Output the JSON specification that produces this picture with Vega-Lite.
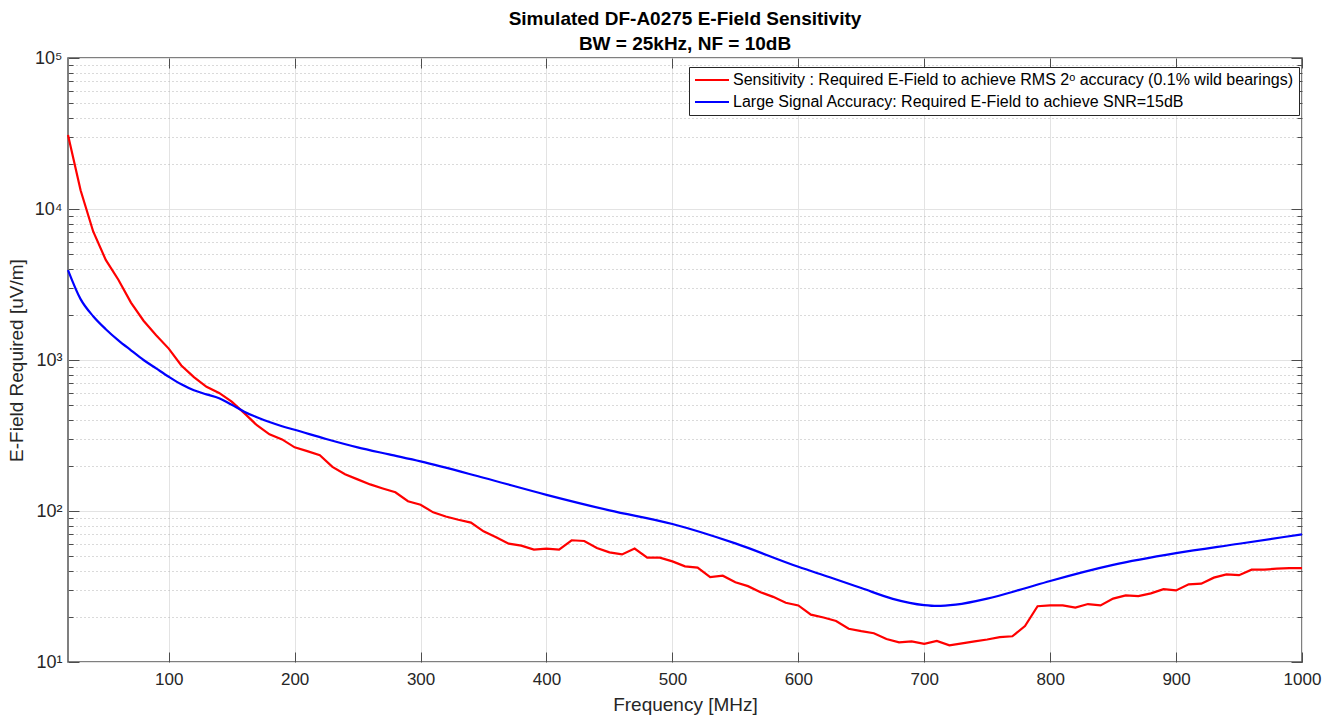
{
  "$schema": "https://vega.github.io/schema/vega-lite/v6.json",
  "width": 1234,
  "height": 604,
  "autosize": {"type": "none"},
  "padding": {"left": 68, "top": 58, "right": 35, "bottom": 58},
  "background": "white",
  "config": {
    "view": {"stroke": "#555555", "strokeWidth": 1.5},
    "axis": {"labelFont": "Liberation Sans", "titleFont": "Liberation Sans", "labelColor": "#262626", "titleColor": "#262626", "tickColor": "#4d4d4d", "domain": false}
  },
  "title": {
    "text": ["Simulated DF-A0275 E-Field Sensitivity", "BW = 25kHz, NF = 10dB"],
    "font": "Liberation Sans",
    "fontSize": 19,
    "fontWeight": "bold",
    "color": "#000000",
    "lineHeight": 25,
    "offset": -5,
    "anchor": "middle"
  },
  "datasets": {
    "sens": [
      {"f": 20, "v": 30900}, {"f": 30, "v": 13300}, {"f": 40, "v": 7100}, {"f": 50, "v": 4600},
      {"f": 60, "v": 3400}, {"f": 70, "v": 2400}, {"f": 80, "v": 1820}, {"f": 90, "v": 1460},
      {"f": 100, "v": 1190}, {"f": 110, "v": 920}, {"f": 120, "v": 770}, {"f": 130, "v": 664},
      {"f": 140, "v": 605}, {"f": 150, "v": 530}, {"f": 160, "v": 445}, {"f": 170, "v": 370},
      {"f": 180, "v": 322}, {"f": 190, "v": 298}, {"f": 200, "v": 264}, {"f": 210, "v": 249},
      {"f": 220, "v": 234}, {"f": 230, "v": 196}, {"f": 240, "v": 175}, {"f": 250, "v": 162},
      {"f": 260, "v": 150}, {"f": 270, "v": 141}, {"f": 280, "v": 133}, {"f": 290, "v": 116},
      {"f": 300, "v": 110}, {"f": 310, "v": 98}, {"f": 320, "v": 92}, {"f": 330, "v": 87.5},
      {"f": 340, "v": 83.8}, {"f": 350, "v": 73.3}, {"f": 360, "v": 67}, {"f": 370, "v": 60.8},
      {"f": 380, "v": 59.0}, {"f": 390, "v": 55.5}, {"f": 400, "v": 56.4}, {"f": 410, "v": 55.5},
      {"f": 420, "v": 64.0}, {"f": 430, "v": 63.3}, {"f": 440, "v": 56.9}, {"f": 450, "v": 53.2},
      {"f": 460, "v": 51.6}, {"f": 470, "v": 56.4}, {"f": 480, "v": 49.1}, {"f": 490, "v": 49.1},
      {"f": 500, "v": 46.4}, {"f": 510, "v": 43.0}, {"f": 520, "v": 42.2}, {"f": 530, "v": 36.5},
      {"f": 540, "v": 37.3}, {"f": 550, "v": 33.7}, {"f": 560, "v": 31.8}, {"f": 570, "v": 29.0},
      {"f": 580, "v": 27.0}, {"f": 590, "v": 24.7}, {"f": 600, "v": 23.7}, {"f": 610, "v": 20.6},
      {"f": 620, "v": 19.7}, {"f": 630, "v": 18.7}, {"f": 640, "v": 16.6}, {"f": 650, "v": 16.0},
      {"f": 660, "v": 15.5}, {"f": 670, "v": 14.2}, {"f": 680, "v": 13.5}, {"f": 690, "v": 13.7},
      {"f": 700, "v": 13.2}, {"f": 710, "v": 13.8}, {"f": 720, "v": 12.9}, {"f": 730, "v": 13.3},
      {"f": 740, "v": 13.7}, {"f": 750, "v": 14.1}, {"f": 760, "v": 14.6}, {"f": 770, "v": 14.8},
      {"f": 780, "v": 17.3}, {"f": 790, "v": 23.4}, {"f": 800, "v": 23.7}, {"f": 810, "v": 23.7},
      {"f": 820, "v": 22.9}, {"f": 830, "v": 24.2}, {"f": 840, "v": 23.7}, {"f": 850, "v": 26.3},
      {"f": 860, "v": 27.6}, {"f": 870, "v": 27.3}, {"f": 880, "v": 28.5}, {"f": 890, "v": 30.4},
      {"f": 900, "v": 29.8}, {"f": 910, "v": 32.7}, {"f": 920, "v": 33.0}, {"f": 930, "v": 36.2},
      {"f": 940, "v": 38.0}, {"f": 950, "v": 37.6}, {"f": 960, "v": 40.9}, {"f": 970, "v": 40.9},
      {"f": 980, "v": 41.5}, {"f": 990, "v": 41.9}, {"f": 1000, "v": 41.9}
    ],
    "large": [
      {"f": 20, "v": 3940}, {"f": 30, "v": 2530}, {"f": 40, "v": 1950}, {"f": 50, "v": 1600},
      {"f": 60, "v": 1350}, {"f": 70, "v": 1160}, {"f": 80, "v": 1000}, {"f": 90, "v": 880},
      {"f": 100, "v": 775}, {"f": 110, "v": 690}, {"f": 120, "v": 630}, {"f": 130, "v": 592},
      {"f": 140, "v": 558}, {"f": 150, "v": 505}, {"f": 160, "v": 455}, {"f": 170, "v": 418},
      {"f": 180, "v": 388}, {"f": 190, "v": 364}, {"f": 200, "v": 345}, {"f": 225, "v": 300},
      {"f": 250, "v": 264}, {"f": 275, "v": 237}, {"f": 300, "v": 213}, {"f": 350, "v": 166},
      {"f": 400, "v": 128}, {"f": 450, "v": 101}, {"f": 500, "v": 82}, {"f": 550, "v": 61},
      {"f": 600, "v": 42.7}, {"f": 625, "v": 36.4}, {"f": 650, "v": 30.9}, {"f": 675, "v": 26.2},
      {"f": 700, "v": 23.8}, {"f": 710, "v": 23.5}, {"f": 725, "v": 24.0}, {"f": 750, "v": 26.3},
      {"f": 775, "v": 29.9}, {"f": 800, "v": 34.4}, {"f": 850, "v": 44.0}, {"f": 900, "v": 52.6},
      {"f": 950, "v": 60.7}, {"f": 1000, "v": 70.1}
    ]
  },
  "resolve": {"axis": {"x": "independent", "y": "independent"}},
  "layer": [
    {
      "data": {"name": "large"},
      "mark": {"type": "line", "opacity": 0},
      "encoding": {
        "x": {"field": "f", "type": "quantitative", "scale": {"domain": [20, 1000], "nice": false, "zero": false},
          "axis": {"orient": "bottom", "values": [100, 200, 300, 400, 500, 600, 700, 800, 900, 1000], "format": "d", "grid": true, "gridColor": "#e3e3e3", "gridWidth": 1, "tickSize": -10, "tickWidth": 1, "labelPadding": 19, "labelFontSize": 17, "labelFlush": false, "title": "Frequency [MHz]", "titleFontSize": 19, "titleFontWeight": "normal", "titlePadding": 8}},
        "y": {"field": "v", "type": "quantitative", "scale": {"type": "log", "domain": [10, 100000], "nice": false},
          "axis": {"orient": "left", "values": [10, 100, 1000, 10000, 100000], "grid": true, "gridColor": "#e3e3e3", "gridWidth": 1, "tickSize": -11, "tickWidth": 1, "labelPadding": 17, "labelFontSize": 18, "labelFlush": false, "labelExpr": "'10' + ['⁰','¹','²','³','⁴','⁵'][round(log(datum.value)/LN10)]", "title": "E-Field Required [uV/m]", "titleFontSize": 19, "titleFontWeight": "normal", "titlePadding": 8}}
      }
    },
    {
      "data": {"name": "large"},
      "mark": {"type": "line", "opacity": 0},
      "encoding": {
        "x": {"field": "f", "type": "quantitative", "scale": {"domain": [20, 1000], "nice": false, "zero": false},
          "axis": {"orient": "top", "values": [100, 200, 300, 400, 500, 600, 700, 800, 900, 1000], "grid": false, "tickSize": -10, "tickWidth": 1, "labels": false, "title": null}},
        "y": {"field": "v", "type": "quantitative", "scale": {"type": "log", "domain": [10, 100000], "nice": false},
          "axis": {"orient": "left", "values": [20, 30, 40, 50, 60, 70, 80, 90, 200, 300, 400, 500, 600, 700, 800, 900, 2000, 3000, 4000, 5000, 6000, 7000, 8000, 9000, 20000, 30000, 40000, 50000, 60000, 70000, 80000, 90000], "grid": true, "gridColor": "#b5b5b5", "gridDash": [1, 3], "gridWidth": 1, "tickSize": -5, "tickWidth": 1, "labels": false, "title": null}}
      }
    },
    {
      "data": {"name": "large"},
      "mark": {"type": "line", "opacity": 0},
      "encoding": {
        "x": {"field": "f", "type": "quantitative", "scale": {"domain": [20, 1000], "nice": false, "zero": false}, "axis": null},
        "y": {"field": "v", "type": "quantitative", "scale": {"type": "log", "domain": [10, 100000], "nice": false},
          "axis": {"orient": "right", "values": [10, 100, 1000, 10000, 100000], "grid": false, "tickSize": -11, "tickWidth": 1, "labels": false, "title": null}}
      }
    },
    {
      "data": {"name": "large"},
      "mark": {"type": "line", "opacity": 0},
      "encoding": {
        "x": {"field": "f", "type": "quantitative", "scale": {"domain": [20, 1000], "nice": false, "zero": false}, "axis": null},
        "y": {"field": "v", "type": "quantitative", "scale": {"type": "log", "domain": [10, 100000], "nice": false},
          "axis": {"orient": "right", "values": [20, 30, 40, 50, 60, 70, 80, 90, 200, 300, 400, 500, 600, 700, 800, 900, 2000, 3000, 4000, 5000, 6000, 7000, 8000, 9000, 20000, 30000, 40000, 50000, 60000, 70000, 80000, 90000], "grid": false, "tickSize": -5, "tickWidth": 1, "labels": false, "title": null}}
      }
    },
    {
      "data": {"name": "sens"},
      "mark": {"type": "line", "strokeWidth": 2.2},
      "encoding": {
        "x": {"field": "f", "type": "quantitative", "scale": {"domain": [20, 1000], "nice": false, "zero": false}, "axis": null},
        "y": {"field": "v", "type": "quantitative", "scale": {"type": "log", "domain": [10, 100000], "nice": false}, "axis": null},
        "color": {
          "datum": "Sensitivity : Required E-Field to achieve RMS 2ᵒ accuracy (0.1% wild bearings)",
          "scale": {"domain": ["Sensitivity : Required E-Field to achieve RMS 2ᵒ accuracy (0.1% wild bearings)", "Large Signal Accuracy: Required E-Field to achieve SNR=15dB"], "range": ["#ff0000", "#0000ff"]},
          "legend": {"orient": "none", "legendX": 621, "legendY": 9, "title": null, "symbolType": "M-2.5,0H2.5", "symbolSize": 185, "symbolOffset": 10, "symbolStrokeWidth": 2.2, "labelFont": "Liberation Sans", "labelFontSize": 16, "labelColor": "#000000", "labelLimit": 1000, "labelOffset": 13, "strokeColor": "#262626", "fillColor": "#ffffff", "padding": 5, "rowPadding": 6}
        }
      }
    },
    {
      "data": {"name": "large"},
      "mark": {"type": "line", "strokeWidth": 2.2, "interpolate": "monotone"},
      "encoding": {
        "x": {"field": "f", "type": "quantitative", "scale": {"domain": [20, 1000], "nice": false, "zero": false}, "axis": null},
        "y": {"field": "v", "type": "quantitative", "scale": {"type": "log", "domain": [10, 100000], "nice": false}, "axis": null},
        "color": {"datum": "Large Signal Accuracy: Required E-Field to achieve SNR=15dB"}
      }
    }
  ]
}
